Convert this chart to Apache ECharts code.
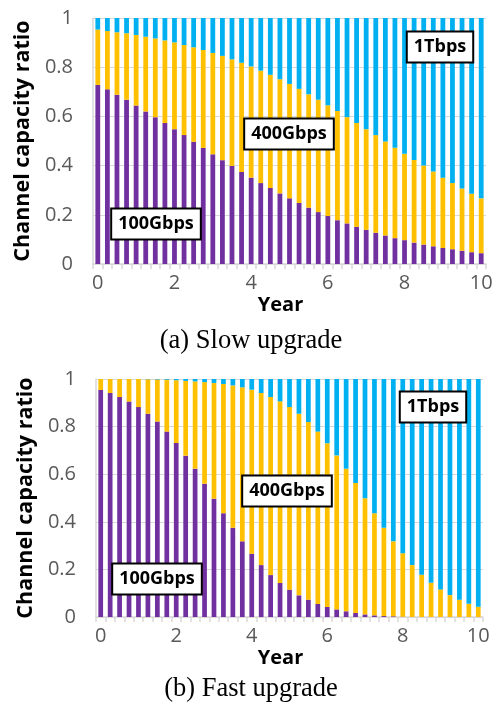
<!DOCTYPE html>
<html>
<head>
<meta charset="utf-8">
<script src="https://cdn.jsdelivr.net/npm/echarts@6/dist/echarts.min.js"></script>
<style>
  html, body { margin: 0; padding: 0; background: #ffffff; }
  #chart { width: 498px; height: 702px; }
</style>
</head>
<body>
<div id="chart"></div>
<script>
// Year axis: quarterly steps over ten years
const years = ['0','0.25','0.5','0.75','1','1.25','1.5','1.75','2','2.25','2.5','2.75',
  '3','3.25','3.5','3.75','4','4.25','4.5','4.75','5','5.25','5.5','5.75','6','6.25',
  '6.5','6.75','7','7.25','7.5','7.75','8','8.25','8.5','8.75','9','9.25','9.5','9.75','10'];

const yTicks = [0, 0.2, 0.4, 0.6, 0.8, 1];

// (a) Slow upgrade: share of channel capacity per line rate
const slow100G = [0.728,0.710,0.688,0.668,0.644,0.620,0.597,0.573,0.548,0.524,0.497,
  0.472,0.446,0.422,0.399,0.374,0.351,0.329,0.309,0.287,0.267,0.248,0.229,0.211,0.195,
  0.178,0.165,0.151,0.139,0.127,0.116,0.105,0.097,0.087,0.079,0.072,0.065,0.060,0.054,
  0.048,0.044];
const slow400G = [0.225,0.237,0.254,0.270,0.287,0.304,0.320,0.336,0.353,0.366,0.384,
  0.398,0.412,0.424,0.433,0.444,0.452,0.457,0.460,0.464,0.465,0.464,0.461,0.457,0.450,
  0.444,0.432,0.422,0.409,0.397,0.382,0.368,0.351,0.336,0.321,0.304,0.286,0.269,0.253,
  0.238,0.223];
const slow1T = [0.047,0.053,0.058,0.062,0.069,0.076,0.083,0.091,0.099,0.110,0.119,
  0.130,0.142,0.154,0.168,0.182,0.197,0.214,0.231,0.249,0.268,0.288,0.310,0.332,0.355,
  0.378,0.403,0.427,0.452,0.476,0.502,0.527,0.552,0.577,0.600,0.624,0.649,0.671,0.693,
  0.714,0.733];

// (b) Fast upgrade
const fast100G = [0.954,0.941,0.924,0.905,0.882,0.854,0.821,0.779,0.731,0.678,0.623,
  0.560,0.497,0.436,0.375,0.318,0.266,0.218,0.176,0.143,0.115,0.091,0.073,0.055,0.042,
  0.032,0.024,0.017,0.011,0.007,0.004,0.003,0.001,0,0,0,0,0,0,0,0];
const fast400G = [0.046,0.059,0.076,0.095,0.118,0.145,0.177,0.218,0.264,0.314,0.367,
  0.427,0.486,0.543,0.598,0.647,0.689,0.723,0.748,0.763,0.767,0.763,0.746,0.724,0.688,
  0.647,0.599,0.546,0.488,0.429,0.371,0.315,0.267,0.218,0.178,0.144,0.116,0.092,0.073,
  0.056,0.043];
const fast1T = [0,0,0,0,0,0.001,0.002,0.003,0.005,0.008,0.010,
  0.013,0.017,0.021,0.027,0.035,0.045,0.059,0.076,0.094,0.118,0.146,0.181,0.221,0.270,
  0.321,0.377,0.437,0.501,0.564,0.625,0.682,0.732,0.782,0.822,0.856,0.884,0.908,0.927,
  0.944,0.957];

const seriesNames = ['100Gbps', '400Gbps', '1Tbps'];
const captions = ['(a) Slow upgrade', '(b) Fast upgrade'];

const colors = ['#7030A0', '#FFC000', '#00B0F0'];
const tickFont = 'Open Sans';
const grey = '#595959';
const lightGrey = '#D9D9D9';

function makeX(gridIndex) {
  return {
    type: 'category', gridIndex, data: years,
    name: 'Year', nameLocation: 'middle', nameGap: 31,
    nameTextStyle: { fontFamily: tickFont, fontWeight: 'bold', fontSize: 20, color: '#000', padding: [0, 18, 0, 0] },
    axisLine: { lineStyle: { color: lightGrey, width: 1.5 } },
    axisTick: { show: true, interval: 0, length: 5, lineStyle: { color: lightGrey, width: 1.5 } },
    axisLabel: { interval: 7, margin: 9, fontFamily: tickFont, fontSize: 20, color: grey }
  };
}
function makeY(gridIndex, gap) {
  return {
    type: 'value', gridIndex, min: 0, max: 1, interval: 0.2,
    name: 'Channel capacity ratio', nameLocation: 'middle', nameGap: gap,
    nameTextStyle: { fontFamily: tickFont, fontWeight: 'bold', fontSize: 21.5, color: '#000' },
    axisLine: { show: true, lineStyle: { color: lightGrey, width: 1.5 } },
    axisTick: { show: false },
    splitLine: { lineStyle: { color: lightGrey, width: 1 } },
    axisLabel: {
      margin: 20, fontFamily: tickFont, fontSize: 20, color: grey,
      formatter: v => String(yTicks.find(t => Math.abs(t - v) < 1e-9) ?? v)
    }
  };
}
function makeBars(data, idx, stack) {
  return data.map((d, k) => ({
    name: seriesNames[k], type: 'bar', stack, data: d,
    xAxisIndex: idx, yAxisIndex: idx, barWidth: '50%',
    itemStyle: { color: colors[k] }, silent: true
  }));
}

function boxLabel(text, x, y) {
  return {
    type: 'text', x, y, z: 100,
    style: {
      text, fontFamily: tickFont, fontWeight: 'bold', fontSize: 18, fill: '#000',
      align: 'center', verticalAlign: 'middle',
      backgroundColor: '#fff', borderColor: '#000', borderWidth: 2,
      padding: [6, 6, 5, 6]
    }
  };
}
function caption(text, x, y) {
  return {
    type: 'text', x, y,
    style: { text, fontFamily: 'Liberation Serif', fontSize: 26.5, fill: '#000', align: 'center', verticalAlign: 'middle' }
  };
}

const chart = echarts.init(document.getElementById('chart'), null, { renderer: 'canvas' });
chart.setOption({
  animation: false,
  grid: [
    { left: 93, top: 18, width: 393, height: 246 },
    { left: 96, top: 379, width: 387, height: 238 }
  ],
  xAxis: [makeX(0), makeX(1)],
  yAxis: [makeY(0, 54), makeY(1, 53)],
  series: [
    ...makeBars([slow100G, slow400G, slow1T], 0, 'slow'),
    ...makeBars([fast100G, fast400G, fast1T], 1, 'fast')
  ],
  graphic: [
    boxLabel(seriesNames[0], 156, 224),
    boxLabel(seriesNames[1], 289, 134),
    boxLabel(seriesNames[2], 440, 47),
    boxLabel(seriesNames[0], 157, 579),
    boxLabel(seriesNames[1], 287, 491),
    boxLabel(seriesNames[2], 433, 407),
    caption(captions[0], 251, 341),
    caption(captions[1], 251, 689)
  ]
});
</script>
</body>
</html>
